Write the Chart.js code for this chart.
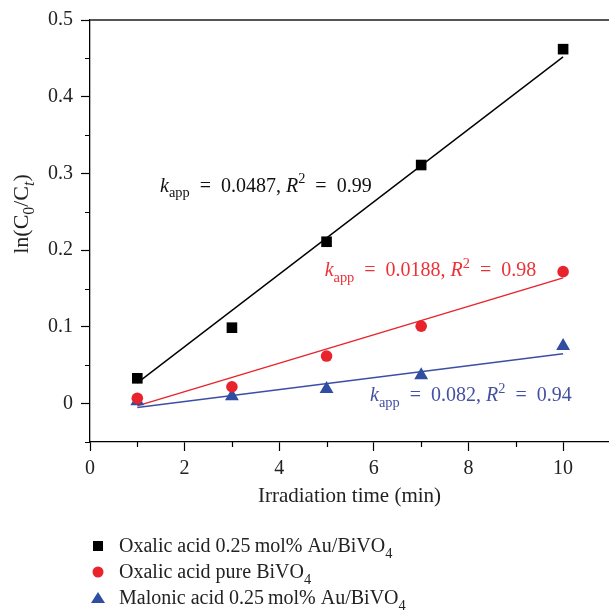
<!DOCTYPE html>
<html>
<head>
<meta charset="utf-8">
<script src="https://cdn.jsdelivr.net/npm/chart.js@4/dist/chart.umd.min.js"></script>
<style>
  html, body { margin: 0; padding: 0; background: #fff; overflow: hidden; }
</style>
</head>
<body>
<canvas id="chart" width="609" height="614"></canvas>
<script>
// measured points (irradiation time in min)
const times = [1, 3, 5, 7, 10];
const oxalicAu = [0.033, 0.099, 0.211, 0.311, 0.462];
const oxalicPure = [0.007, 0.022, 0.062, 0.101, 0.172];
const malonicAu = [0.003, 0.0095, 0.019, 0.037, 0.075];

// linear fits, read at both ends
const fitTimes = [1, 10];
const fitOxalicAu = [0.027, 0.452];
const fitOxalicPure = [-0.003, 0.164];
const fitMalonicAu = [-0.005, 0.065];

const xTicks = [0, 2, 4, 6, 8, 10];
const xMinor = [1, 3, 5, 7, 9];
const yTicks = [0, 0.1, 0.2, 0.3, 0.4, 0.5];
const yMinor = [-0.05, 0.05, 0.15, 0.25, 0.35, 0.45];

const seriesNames = [
    "Oxalic acid 0.25\u2009mol% Au/BiVO_4",
    "Oxalic acid pure BiVO_4",
    "Malonic acid 0.25\u2009mol% Au/BiVO_4"
];
const kApp = ["0.0487", "0.0188", "0.082"];
const r2 = ["0.99", "0.98", "0.94"];

const BLACK = "#000000", RED = "#e8232b", BLUE = "#2f4ea1";
const textColors = ["#111111", "#ec3237", "#4451a3"];
const FONT = '"Liberation Serif", "Times New Roman", serif';

// label anchors in data units (x, y of text baseline start)
const labelAt = [[1.48, 0.276], [4.96, 0.166], [5.92, 0.003]];

function pts(xs, ys) { return xs.map((x, i) => ({ x: x, y: ys[i] })); }

function drawRich(ctx, x, y, parts, size, color) {
    ctx.fillStyle = color;
    ctx.textAlign = "left";
    ctx.textBaseline = "alphabetic";
    for (const [t, s] of parts) {
        let fs = size, dy = 0, it = "";
        if (s.includes("sub")) { fs = size * 0.72; dy = size * 0.28; }
        if (s.includes("sup")) { fs = size * 0.72; dy = -size * 0.42; }
        if (s.includes("i")) it = "italic ";
        ctx.font = it + fs + "px " + FONT;
        ctx.fillText(t, x, y + dy);
        x += ctx.measureText(t).width;
    }
    return x;
}

function richWidth(ctx, parts, size) {
    let w = 0;
    for (const [t, s] of parts) {
        let fs = size, it = "";
        if (s.includes("sub") || s.includes("sup")) fs = size * 0.72;
        if (s.includes("i")) it = "italic ";
        ctx.font = it + fs + "px " + FONT;
        w += ctx.measureText(t).width;
    }
    return w;
}

// "BiVO_4" -> subscript 4
function parseLabel(str) {
    const out = [];
    str.split(/(_\w)/).forEach(p => {
        if (!p) return;
        if (p[0] === "_") out.push([p.slice(1), "sub"]);
        else out.push([p, ""]);
    });
    return out;
}

const extras = {
    id: "extras",
    afterDraw(chart) {
        const ctx = chart.ctx;
        const a = chart.chartArea;
        const xs = chart.scales.x, ys = chart.scales.y;
        ctx.save();

        // top frame line
        ctx.strokeStyle = "#555";
        ctx.lineWidth = 2;
        ctx.beginPath();
        ctx.moveTo(a.left, a.top);
        ctx.lineTo(chart.width, a.top);
        ctx.stroke();

        // minor ticks
        ctx.strokeStyle = "#000";
        ctx.lineWidth = 1.2;
        ctx.beginPath();
        xMinor.forEach(v => {
            const px = Math.round(xs.getPixelForValue(v)) + 0.5;
            ctx.moveTo(px, a.bottom);
            ctx.lineTo(px, a.bottom + 5);
        });
        yMinor.forEach(v => {
            const py = Math.round(ys.getPixelForValue(v)) + 0.5;
            ctx.moveTo(a.left - 5, py);
            ctx.lineTo(a.left, py);
        });
        ctx.stroke();

        // y title
        const yt = [["ln(C", ""], ["0", "sub"], ["/C", ""], ["t", "isub"], [")", ""]];
        const ytw = richWidth(ctx, yt, 22);
        ctx.translate(28, 214);
        ctx.rotate(-Math.PI / 2);
        drawRich(ctx, -ytw / 2, 0, yt, 22, "#222");
        ctx.setTransform(1, 0, 0, 1, 0, 0);

        // fit annotations
        labelAt.forEach((p, i) => {
            const parts = [["k", "i"], ["app", "sub"], ["  =  " + kApp[i] + ", ", ""],
                ["R", "i"], ["2", "sup"], ["  =  " + r2[i], ""]];
            drawRich(ctx, xs.getPixelForValue(p[0]), ys.getPixelForValue(p[1]), parts, 20, textColors[i]);
        });

        // legend
        const pointSets = chart.data.datasets.filter(d => !d.isFit);
        pointSets.forEach((d, i) => {
            const cy = 546 + i * 26;
            ctx.fillStyle = d.backgroundColor;
            ctx.beginPath();
            if (d.pointStyle === "rect") ctx.rect(93, cy - 5, 10, 10);
            else if (d.pointStyle === "circle") ctx.arc(98, cy, 5.5, 0, Math.PI * 2);
            else { ctx.moveTo(98, cy - 6); ctx.lineTo(105, cy + 5); ctx.lineTo(91, cy + 5); ctx.closePath(); }
            ctx.fill();
            drawRich(ctx, 119, cy + 6, parseLabel(d.label), 20, "#222");
        });
        ctx.restore();
    }
};

Chart.defaults.font.family = FONT;

new Chart(document.getElementById("chart"), {
    type: "scatter",
    data: {
        datasets: [
            { label: "fit1", isFit: true, data: pts(fitTimes, fitOxalicAu), showLine: true, borderColor: BLACK, borderWidth: 1.4, pointRadius: 0, order: 2 },
            { label: "fit2", isFit: true, data: pts(fitTimes, fitOxalicPure), showLine: true, borderColor: RED, borderWidth: 1.4, pointRadius: 0, order: 2 },
            { label: "fit3", isFit: true, data: pts(fitTimes, fitMalonicAu), showLine: true, borderColor: "#3d4ea3", borderWidth: 1.4, pointRadius: 0, order: 2 },
            { label: seriesNames[0], data: pts(times, oxalicAu), pointStyle: "rect", pointRadius: 7.5, backgroundColor: BLACK, borderColor: BLACK, borderWidth: 0, order: 1 },
            { label: seriesNames[1], data: pts(times, oxalicPure), pointStyle: "circle", pointRadius: 5.8, backgroundColor: RED, borderColor: RED, borderWidth: 0, order: 1 },
            { label: seriesNames[2], data: pts(times, malonicAu), pointStyle: "triangle", pointRadius: 8, backgroundColor: BLUE, borderColor: BLUE, borderWidth: 0, order: 1 }
        ]
    },
    options: {
        responsive: false,
        animation: false,
        devicePixelRatio: 1,
        layout: { autoPadding: false, padding: { top: 20, right: 0, bottom: 102, left: 0 } },
        plugins: { legend: { display: false }, tooltip: { enabled: false } },
        scales: {
            x: {
                type: "linear", min: 0, max: 10.97,
                afterBuildTicks: s => { s.ticks = xTicks.map(v => ({ value: v })); },
                afterFit: s => { s.height = 70; },
                ticks: { font: { size: 20 }, color: "#222", padding: 6, maxRotation: 0, autoSkip: false },
                grid: { drawOnChartArea: false, tickLength: 9, color: "#000", tickWidth: 1.2 },
                border: { color: "#000", width: 1.3 },
                title: { display: true, text: "Irradiation time (min)", font: { size: 21 }, color: "#222", padding: { top: 0, bottom: 3 } }
            },
            y: {
                min: -0.05, max: 0.5,
                afterBuildTicks: s => { s.ticks = yTicks.map(v => ({ value: v })); },
                afterFit: s => { s.width = 90; },
                ticks: { font: { size: 20 }, color: "#222", padding: 8, callback: v => v === 0 ? "0" : v.toFixed(1) },
                grid: { drawOnChartArea: false, tickLength: 9, color: "#000", tickWidth: 1.2 },
                border: { color: "#000", width: 1.3 }
            }
        }
    },
    plugins: [extras]
});
</script>
</body>
</html>
